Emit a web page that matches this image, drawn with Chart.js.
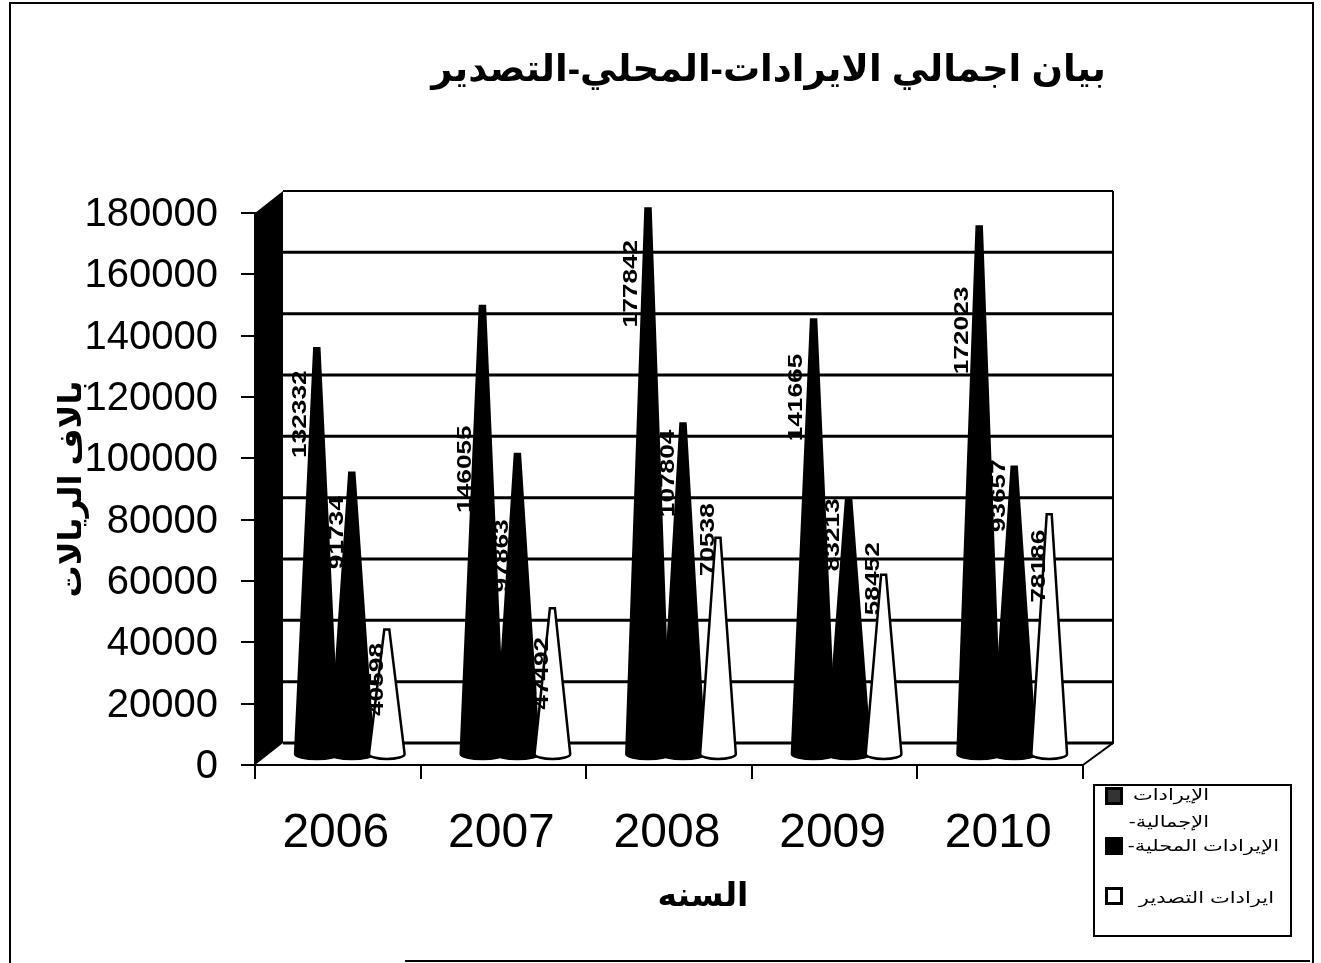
<!DOCTYPE html>
<html lang="ar">
<head>
    <meta charset="UTF-8">
    <title>بيان اجمالي الايرادات</title>
    <script src="https://cdn.jsdelivr.net/npm/chart.js"></script>
    <style>
        body { margin: 0; background: #fff; width: 1321px; height: 963px; position: relative; overflow: hidden;
               font-family: 'Liberation Sans', 'DejaVu Sans', sans-serif; color: #000; }
        canvas { position: absolute; left: 0; top: 0; }
        .frame { position: absolute; left: 9px; top: 2px; width: 1301px; height: 970px; border: 2px solid #000; }
        .frame-bottom { position: absolute; left: 405px; top: 960px; width: 905px; border-top: 2px solid #000; }
        .chart-title { position: absolute; right: 215px; top: 47px; font-size: 37px; font-weight: bold; direction: rtl; white-space: nowrap; }
        .x-title { position: absolute; left: 603px; width: 200px; top: 875px; text-align: center; font-size: 33px; font-weight: bold; direction: rtl; }
        .legend { position: absolute; left: 1093px; top: 784px; width: 195px; height: 149px; border: 2px solid #000; background: #fff; }
        .swatch { position: absolute; left: 10px; width: 12px; height: 12px; border: 3px solid #000; }
        .legend-text { position: absolute; font-size: 21px; line-height: 37px; direction: rtl; text-align: right; white-space: pre-line;
                       transform: scaleY(0.75); transform-origin: top right; }
    </style>
</head>
<body>
    <div class="frame"></div>
    <div class="frame-bottom"></div>
    <canvas id="chart" width="1321" height="963"></canvas>
    <div class="chart-title">بيان اجمالي الايرادات-المحلي-التصدير</div>
    <div class="x-title">السنه</div>
    <div class="legend" id="legend"></div>

    <script>
        const years = ['2006', '2007', '2008', '2009', '2010'];
        const seriesNames = ['الإيرادات\nالإجمالية-', 'الإيرادات المحلية-', 'ايرادات التصدير'];
        const totalRevenue = [132332, 146055, 177842, 141665, 172023];
        const localRevenue = [91734, 97863, 107804, 83213, 93657];
        const exportRevenue = [40598, 47492, 70538, 58452, 78186];
        const coneColors = ['#000000', '#000000', '#ffffff'];
        const swatchColors = ['#333333', '#000000', '#ffffff'];

        // how far each value label sits below its cone tip, px (same order as the series)
        const labelDrop = [
            [66, 163, 75, 78, 104],
            [60, 102, 50, 36, 29],
            [50, 65, 2, 4, 52]
        ];
        const labelShift = [-17, -15, -10];
        const coneSpread = [0.62, 0.62, 0.51];

        const depthX = 28, depthY = 22;   // fake 3d depth of the floor

        const cones = {
            id: 'cones',
            beforeDatasetsDraw(chart) {
                const { ctx, chartArea: area, scales: { y } } = chart;
                ctx.save();
                // side wall
                ctx.fillStyle = '#000';
                ctx.beginPath();
                ctx.moveTo(area.left, area.bottom);
                ctx.lineTo(area.left + depthX, area.bottom - depthY);
                ctx.lineTo(area.left + depthX, area.top - depthY);
                ctx.lineTo(area.left, area.top);
                ctx.closePath();
                ctx.fill();
                // floor + right edge
                ctx.strokeStyle = '#000';
                ctx.lineWidth = 2;
                ctx.beginPath();
                ctx.moveTo(area.right, area.bottom);
                ctx.lineTo(area.right + depthX + 2, area.bottom - depthY);
                ctx.lineTo(area.right + depthX + 2, area.top - depthY);
                ctx.stroke();
                // back wall grid
                y.ticks.forEach(t => {
                    const py = y.getPixelForValue(t.value) - depthY;
                    ctx.lineWidth = t.value === 180000 ? 2 : 3;
                    ctx.beginPath();
                    ctx.moveTo(area.left + depthX, py);
                    ctx.lineTo(area.right + depthX + 2, py);
                    ctx.stroke();
                });
                ctx.restore();
            },
            afterDatasetsDraw(chart) {
                const { ctx, scales: { y } } = chart;
                const zero = y.getPixelForValue(0) - depthY / 2;
                ctx.save();
                chart.data.datasets.forEach((ds, s) => {
                    chart.getDatasetMeta(s).data.forEach(bar => {
                        const cx = bar.x + depthX / 2;
                        const top = bar.y - depthY / 2;
                        const r = bar.width * coneSpread[s];
                        ctx.beginPath();
                        ctx.moveTo(cx - 2.5, top);
                        ctx.lineTo(cx + 2.5, top);
                        ctx.lineTo(cx + r, zero);
                        ctx.ellipse(cx, zero, r, 5, 0, 0, Math.PI);
                        ctx.closePath();
                        ctx.fillStyle = coneColors[s];
                        ctx.fill();
                        ctx.strokeStyle = '#000';
                        ctx.lineWidth = 2.5;
                        ctx.stroke();
                    });
                });
                // value labels go on top of all the cones
                ctx.fillStyle = '#000';
                ctx.font = "bold 21px 'Liberation Sans'";
                ctx.textAlign = 'center';
                ctx.textBaseline = 'middle';
                chart.data.datasets.forEach((ds, s) => {
                    chart.getDatasetMeta(s).data.forEach((bar, i) => {
                        ctx.save();
                        ctx.translate(bar.x + depthX / 2 + labelShift[s], bar.y - depthY / 2 + labelDrop[s][i]);
                        ctx.rotate(-Math.PI / 2);
                        ctx.scale(1.25, 1);   // the labels are stretched along their length
                        ctx.fillText(ds.data[i], 0, 0);
                        ctx.restore();
                    });
                });
                ctx.restore();
            }
        };

        new Chart(document.getElementById('chart'), {
            type: 'bar',
            data: {
                labels: years,
                datasets: [totalRevenue, localRevenue, exportRevenue].map((values, i) => ({
                    label: seriesNames[i],
                    data: values,
                    backgroundColor: 'transparent',
                    borderWidth: 0,
                    categoryPercentage: 0.634,
                    barPercentage: 1
                }))
            },
            options: {
                responsive: false,
                animation: false,
                layout: { padding: { left: 53, top: 213, right: 238, bottom: 0 } },
                plugins: { legend: { display: false }, tooltip: { enabled: false } },
                scales: {
                    x: {
                        afterFit(scale) { scale.height = 198; },
                        border: { color: '#000', width: 2 },
                        grid: { offset: true, drawOnChartArea: false, color: '#000', lineWidth: 2, tickLength: 14 },
                        ticks: { color: '#000', padding: 26, labelOffset: -2, maxRotation: 0, font: { size: 48, family: "'Liberation Sans'" } }
                    },
                    y: {
                        min: 0,
                        max: 180000,
                        afterFit(scale) { scale.width = 202; },
                        border: { color: '#000', width: 2 },
                        grid: { drawOnChartArea: false, color: '#000', lineWidth: 2, tickLength: 14 },
                        ticks: {
                            stepSize: 20000,
                            color: '#000',
                            padding: 23,
                            labelOffset: 2,
                            callback: v => String(v),
                            font: { size: 40, family: "'Liberation Sans'" }
                        },
                        title: {
                            display: true,
                            text: 'بالاف الريالات',
                            color: '#000',
                            padding: 0,
                            font: { size: 32, weight: 'bold', family: "'Liberation Sans', 'DejaVu Sans'" }
                        }
                    }
                }
            },
            plugins: [cones]
        });

        // legend box, the chart's own legend cannot wrap like this one
        const swatchTops = [1, 51, 101];
        const textTops = [-6, 45, 97];
        const textRights = [81, 11, 16];
        const legend = document.getElementById('legend');
        seriesNames.forEach((name, i) => {
            const swatch = document.createElement('div');
            swatch.className = 'swatch';
            swatch.style.top = swatchTops[i] + 'px';
            swatch.style.background = swatchColors[i];
            const text = document.createElement('div');
            text.className = 'legend-text';
            text.style.top = textTops[i] + 'px';
            text.style.right = textRights[i] + 'px';
            text.textContent = name;
            legend.append(swatch, text);
        });
    </script>
</body>
</html>
